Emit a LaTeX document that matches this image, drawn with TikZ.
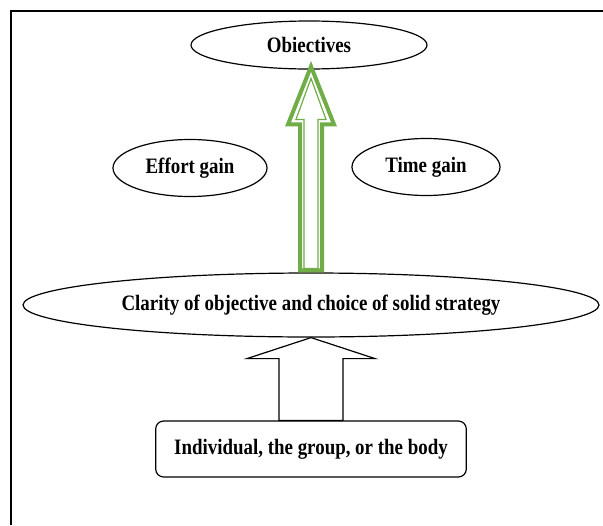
\documentclass[tikz,border=0pt]{standalone}
\usepackage{fontspec}
\setmainfont{Liberation Serif}[FakeStretch=0.86]
\usepackage{xcolor}
\usetikzlibrary{shapes.geometric, positioning, calc}
\definecolor{leafgreen}{RGB}{112,173,71}

\begin{document}
\begin{tikzpicture}[x=0.75pt, y=-0.75pt,
    oval/.style={draw, ellipse, line width=0.9pt, inner sep=0pt,
        font=\fontsize{16.5}{19}\selectfont\bfseries},
    basebox/.style={draw, rectangle, rounded corners=6pt, line width=0.9pt,
        minimum width=233pt, minimum height=42pt,
        font=\fontsize{16.5}{19}\selectfont\bfseries}]
    \useasboundingbox (0,0) rectangle (603,525);
    % frame (cut on the right and at the bottom)
    \draw[line width=1.5pt] (11,525) -- (11,11) -- (603,11);

    \node[oval, minimum width=177pt, minimum height=36pt] (obj) at (309,45) {Obiectives};
    \node[oval, minimum width=115.5pt, minimum height=42.75pt] (effort) at (190,168) {Effort gain};
    \node[oval, minimum width=111pt, minimum height=42.75pt] (time) at (426,167) {Time gain};
    \node[oval, minimum width=432pt, minimum height=48pt] (clar) at (311,305) {Clarity of objective and choice of solid strategy};
    \node[basebox] (ind) at (311,449) {Individual, the group, or the body};

    % green block arrow
    \coordinate (gb) at (clar.north);
    \draw[leafgreen, line width=3pt, line join=miter]
        ($(gb)+(-11,-2)$) -- ++(0,-146) -- ++(-12,0) -- ($(gb)+(0,-206)$)
        -- ($(gb)+(23,-148)$) -- ++(-12,0) -- ($(gb)+(11,-2)$) -- cycle;
    \draw[leafgreen, line width=0.9pt, line join=miter]
        ($(gb)+(-7,-4)$) -- ++(0,-149) -- ++(-8,0) -- ($(gb)+(0,-194)$)
        -- ($(gb)+(15,-153)$) -- ++(-8,0) -- ($(gb)+(7,-4)$) -- cycle;

    % white block arrow
    \draw[line width=0.9pt, fill=white]
        (clar.south) -- ++(64,21) -- ++(-32,0) -- ($(ind.north)+(32,0)$)
        -- ($(ind.north)+(-32,0)$) -- ($(clar.south)+(-32,21)$) -- ++(-32,0) -- cycle;
\end{tikzpicture}
\end{document}
